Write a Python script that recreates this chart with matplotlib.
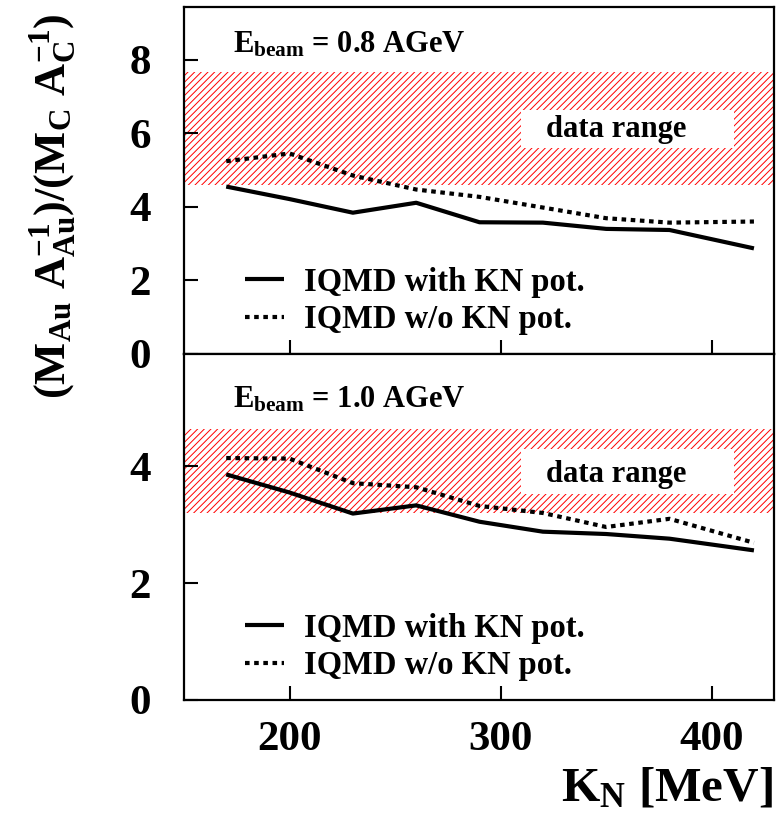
import matplotlib
matplotlib.use('Agg')
import matplotlib.pyplot as plt
from matplotlib.patches import Rectangle

plt.rcParams['font.family'] = 'Liberation Serif'
plt.rcParams['font.weight'] = 'bold'
plt.rcParams['mathtext.fontset'] = 'custom'
plt.rcParams['mathtext.rm'] = 'Liberation Serif:bold'
plt.rcParams['mathtext.it'] = 'Liberation Serif:bold'
plt.rcParams['mathtext.bf'] = 'Liberation Serif:bold'
plt.rcParams['hatch.linewidth'] = 0.7

# K_N values (MeV)
kn = [170, 200, 230, 260, 290, 320, 350, 380, 420]

# E_beam = 0.8 AGeV
with_pot_08 = [4.55, 4.21, 3.84, 4.11, 3.58, 3.57, 3.40, 3.37, 2.87]
wo_pot_08 = [5.24, 5.45, 4.85, 4.47, 4.27, 3.98, 3.69, 3.57, 3.60]
band_08 = (4.6, 7.67)

# E_beam = 1.0 AGeV
with_pot_10 = [3.86, 3.55, 3.19, 3.33, 3.05, 2.88, 2.84, 2.76, 2.56]
wo_pot_10 = [4.14, 4.13, 3.71, 3.64, 3.32, 3.20, 2.96, 3.10, 2.69]
band_10 = (3.20, 4.64)

panels = [
    ('0.8', with_pot_08, wo_pot_08, band_08, (0, 9.43), [0, 2, 4, 6, 8]),
    ('1.0', with_pot_10, wo_pot_10, band_10, (0, 5.92), [0, 2, 4]),
]
# per-panel placement of text boxes (axes fraction)
box_y = [(0.593, 0.110), (0.595, 0.130)]
text_y = [0.648, 0.653]
ebeam_y = [0.89, 0.867]

fig = plt.figure(figsize=(7.77, 8.15), dpi=100)
L, W = 184 / 777, 590 / 777
ax_top = fig.add_axes([L, 1 - 354 / 815, W, 347 / 815])
ax_bot = fig.add_axes([L, 1 - 700 / 815, W, 346 / 815])

for i, (ax, (eb, yw, yo, band, ylim, yt)) in enumerate(zip([ax_top, ax_bot], panels)):
    ax.axhspan(band[0], band[1], facecolor='none', edgecolor='red',
               hatch='/////', linewidth=0, zorder=1)
    ax.add_patch(Rectangle((0.572, box_y[i][0]), 0.36, box_y[i][1],
                           transform=ax.transAxes, facecolor='white',
                           edgecolor='none', zorder=1.5))
    ax.text(0.733, text_y[i], 'data range', transform=ax.transAxes, ha='center',
            va='center', fontsize=22, fontweight='bold', zorder=2)
    ax.plot(kn, yw, color='black', lw=3, solid_capstyle='butt', zorder=3,
            label='IQMD with KN pot.')
    ax.plot(kn, yo, color='black', lw=3, linestyle=(0, (1.1, 1.1)), zorder=3,
            label='IQMD w/o KN pot.')
    ax.text(0.083, ebeam_y[i],
            r'$\mathrm{E_{beam}}$ = ' + eb + ' AGeV', transform=ax.transAxes,
            ha='left', va='center', fontsize=22, fontweight='bold')
    ax.legend(loc='center left', bbox_to_anchor=(0.103, 0.153), frameon=False,
              fontsize=23.5, handlelength=1.2, handletextpad=0.6,
              labelspacing=0.2, borderpad=0, borderaxespad=0)
    ax.set_xlim(150, 429.5)
    ax.set_ylim(*ylim)
    ax.set_yticks(yt)
    ax.set_xticks([200, 300, 400])
    ax.tick_params(direction='in', length=10, width=1.5, labelsize=31)
    ax.tick_params(axis='y', pad=24)
    ax.tick_params(axis='x', pad=15)
    for s in ax.spines.values():
        s.set_linewidth(1.6)

ax_top.tick_params(labelbottom=False)

fig.text(0.068, 1 - 206 / 815,
         r'$\mathrm{(M_{Au}\ A_{Au}^{-1})/(M_{C}\ A_{C}^{-1})}$',
         rotation=90, ha='center', va='center', fontsize=32)
fig.text(0.995, 1 - 801 / 815, r'$\mathrm{K_N}$ [MeV]', ha='right',
         va='baseline', fontsize=35.5, fontweight='bold')

fig.savefig('out.png', dpi=100)
